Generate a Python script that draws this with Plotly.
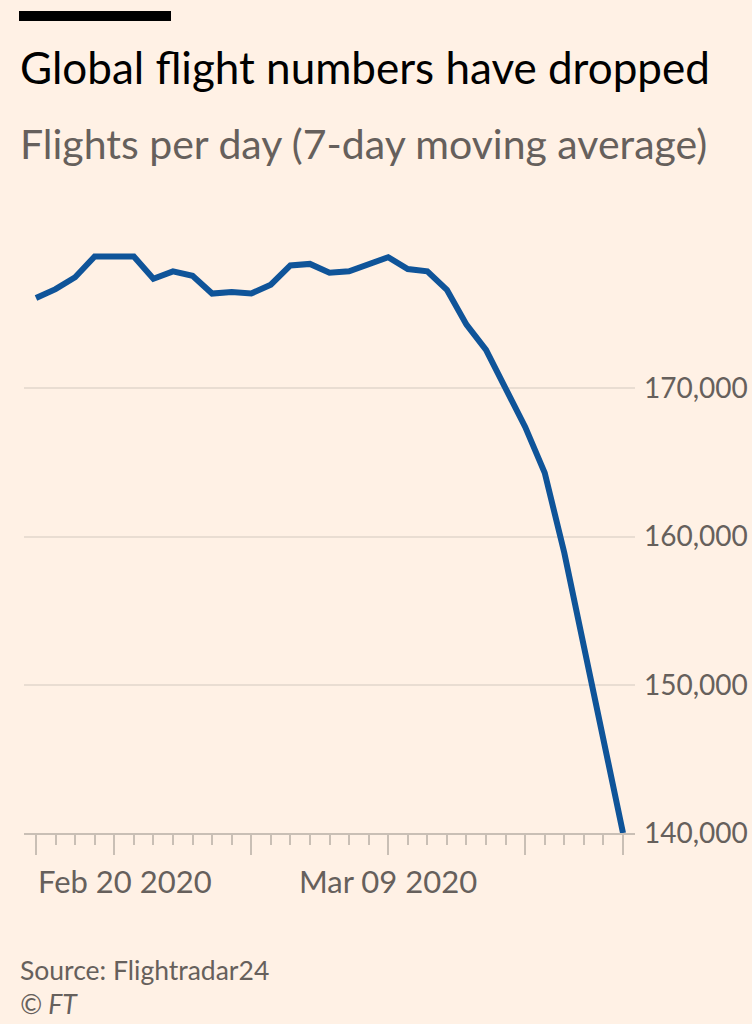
import plotly.graph_objects as go
import pandas as pd

# ---- data ----
dates = pd.date_range("2020-02-20", "2020-03-21", freq="D").strftime("%Y-%m-%d").tolist()
flights = [176100, 176700, 177500, 178900, 178900, 178900, 177400, 177900, 177600, 176400,
           176500, 176400, 177000, 178300, 178400, 177800, 177900, 178400, 178850, 178050,
           177900, 176650, 174300, 172600, 170100, 167400, 164300, 158900, 152600, 146200,
           140000]
major_ticks = ["2020-02-20", "2020-02-24", "2020-03-02", "2020-03-09", "2020-03-16", "2020-03-21"]
x_labels = ["2020-02-20", "2020-03-09"]
x_label_text = ["Feb 20 2020", "Mar 09 2020"]
y_ticks = [140000, 150000, 160000, 170000]
y_tick_text = ["140,000", "150,000", "160,000", "170,000"]

title = "Global flight numbers have dropped"
subtitle = "Flights per day (7-day moving average)"
source = "Source: Flightradar24"
credit = "© FT"

# ---- layout geometry (pixels) ----
W, H = 752, 1024
L, R = 24, 635
T, B = 230, 833

def px(x):
    return (x - L) / (R - L)

def py(y):
    return (B - y) / (B - T)

BG = "#FFF1E5"
FONT = "Lato"
GRAY = "#66605C"

fig = go.Figure()
fig.add_trace(go.Scatter(
    x=dates, y=flights, mode="lines",
    line=dict(color="#0F5499", width=6),
    hoverinfo="skip", showlegend=False,
))

annotations = [
    dict(text=title, x=px(18), y=py(67), xref="paper", yref="paper",
         xanchor="left", yanchor="middle", showarrow=False,
         font=dict(family=FONT, size=44, color="#000000")),
    dict(text=subtitle, x=px(18), y=py(143), xref="paper", yref="paper",
         xanchor="left", yanchor="middle", showarrow=False,
         font=dict(family=FONT, size=41, color=GRAY)),
    dict(text=source, x=px(18), y=py(970), xref="paper", yref="paper",
         xanchor="left", yanchor="middle", showarrow=False,
         font=dict(family=FONT, size=26.5, color=GRAY)),
    dict(text="<i>" + credit + "</i>", x=px(18), y=py(1004), xref="paper", yref="paper",
         xanchor="left", yanchor="middle", showarrow=False,
         font=dict(family=FONT, size=26.5, color=GRAY)),
]
for i, (d, t) in enumerate(zip(x_labels, x_label_text)):
    annotations.append(dict(
        text=t, x=d, y=py(881), xref="x", yref="paper",
        xanchor="left" if i == 0 else "center", yanchor="middle",
        showarrow=False,
        font=dict(family=FONT, size=31, color=GRAY)))

fig.update_layout(
    width=W, height=H,
    margin=dict(l=L, r=W - R, t=T, b=H - B, pad=0, autoexpand=False),
    paper_bgcolor=BG, plot_bgcolor=BG,
    showlegend=False,
    annotations=annotations,
    shapes=[dict(type="rect", xref="paper", yref="paper",
                 x0=px(19), x1=px(171), y0=py(21), y1=py(11),
                 fillcolor="#000000", line=dict(width=0))],
    xaxis=dict(
        type="date",
        range=["2020-02-19 09:18", "2020-03-21 14:42"],
        showgrid=False, zeroline=False,
        showline=True, linecolor="#C9BFB5", linewidth=2,
        tickmode="array", tickvals=major_ticks, showticklabels=False,
        ticks="outside", ticklen=20, tickwidth=1.5, tickcolor="#C9BFB5",
        minor=dict(ticks="outside", ticklen=10, tickwidth=1.5, tickcolor="#C9BFB5",
                   dtick=86400000, tick0="2020-02-20", showgrid=False),
        fixedrange=True, automargin=False,
    ),
    yaxis=dict(
        range=[140000, 140000 + (B - T) / 148.2 * 10000],
        side="right",
        tickmode="array", tickvals=y_ticks, ticktext=y_tick_text,
        showgrid=True, gridcolor="#E9DDD2", gridwidth=1.5,
        zeroline=False, showline=False, ticks="",
        ticklabelstandoff=8,
        tickfont=dict(family=FONT, size=28, color=GRAY),
        fixedrange=True, automargin=False,
    ),
)

fig.write_html("out.html")
